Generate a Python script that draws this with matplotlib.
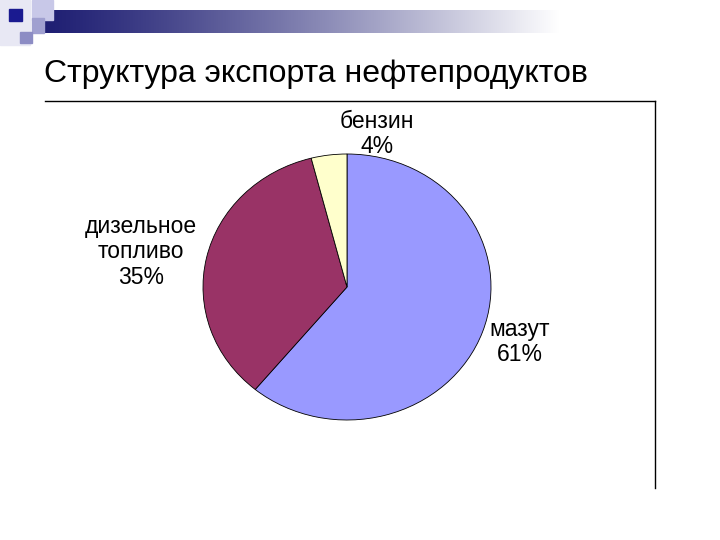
import numpy as np
import matplotlib
matplotlib.use("Agg")
import matplotlib.pyplot as plt
from matplotlib.patches import Rectangle

title = "Структура экспорта нефтепродуктов"
products = ["мазут", "дизельное\nтопливо", "бензин"]
shares = [61, 35, 4]
colors = ["#9999FF", "#993366", "#FFFFCC"]

plt.rcParams['font.family'] = ['Liberation Sans', 'DejaVu Sans']

fig = plt.figure(figsize=(7.2, 5.4), dpi=100)

# фон слайда в пикселях
bg = fig.add_axes([0, 0, 1, 1])
bg.set_xlim(0, 720)
bg.set_ylim(540, 0)
bg.axis("off")

# полоса с градиентом сверху
grad = np.linspace(0, 1, 256) ** 1.2
navy = np.array([0.12, 0.12, 0.45])
img = navy[None, :] * (1 - grad[:, None]) + np.ones(3)[None, :] * grad[:, None]
bg.imshow(img[None, :, :], extent=(42, 560, 33, 10), aspect="auto", zorder=1)

# квадратики в углу
bg.add_patch(Rectangle((0, 0), 30, 45, color="#e8e8f4", zorder=0))
bg.add_patch(Rectangle((32, 0), 21, 20, color="#c8c8e8", zorder=2))
bg.add_patch(Rectangle((32, 18), 12, 15, color="#a0a0d0", zorder=2))
bg.add_patch(Rectangle((9, 9), 13, 12, color="#1a1a90", zorder=3))
bg.add_patch(Rectangle((20, 32), 12, 11, color="#8c8cc4", zorder=2))

bg.text(44, 82, title, fontsize=23, ha="left", va="baseline", color="black")

# рамка диаграммы
bg.plot([45, 655], [101, 101], color="black", lw=1)
bg.plot([655, 655], [101, 488], color="black", lw=1)

# круговая диаграмма (немного сплющенная, как на слайде)
cx, cy, rx, ry = 347, 287, 144, 133
pw, ph = 2.5 * rx, 2.5 * ry
ax = fig.add_axes([(cx - pw / 2) / 720, (540 - cy - ph / 2) / 540, pw / 720, ph / 540])
ax.pie(shares, colors=colors, startangle=90, counterclock=False,
       wedgeprops=dict(edgecolor="black", linewidth=0.6))
ax.set_aspect("auto")
ax.set_xlim(-1.25, 1.25)
ax.set_ylim(-1.25, 1.25)
ax.axis("off")

label_pos = [(520, 342), (141, 252), (377, 134)]
for name, val, (x, y) in zip(products, shares, label_pos):
    bg.text(x, y, f"{name}\n{val}%", fontsize=16.5, ha="center", va="center",
            linespacing=1.15, color="black")

fig.savefig("out.png", dpi=100)
